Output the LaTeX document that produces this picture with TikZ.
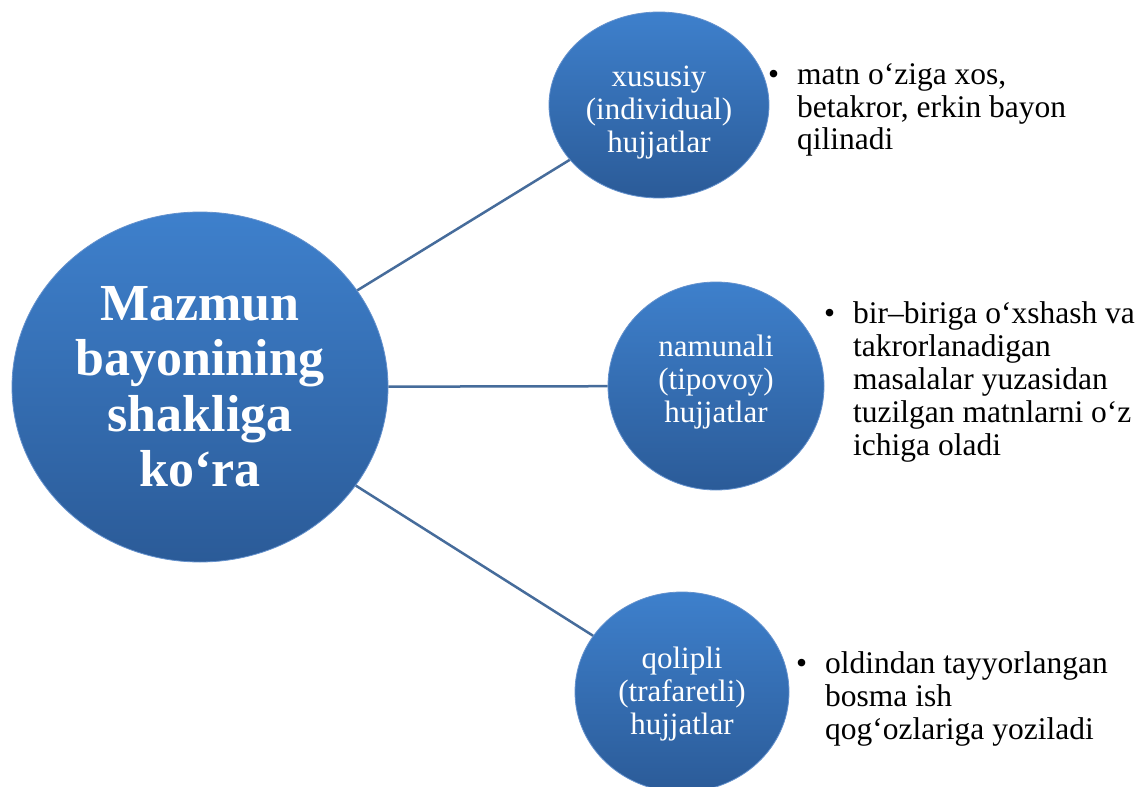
\documentclass[tikz,border=0pt]{standalone}
\usepackage{fontspec}
\setmainfont{Liberation Serif}
\usetikzlibrary{shapes.geometric}
\definecolor{ctop}{RGB}{62,128,204}
\definecolor{cbot}{RGB}{43,91,152}
\definecolor{linec}{RGB}{70,108,155}
\definecolor{rimc}{RGB}{100,145,205}
\newcommand\cblock[2]{\vtop{\baselineskip=#1\lineskiplimit=-100pt\halign{\hfil##\hfil\cr#2\crcr}}}
\newcommand\lblock[2]{\vtop{\baselineskip=#1\lineskiplimit=-100pt\halign{##\hfil\cr#2\crcr}}}
\newcommand\bul{\llap{•\hskip 18pt}}
\begin{document}
\begin{tikzpicture}[x=1pt,y=-1pt,
  bubble/.style={ellipse, inner sep=0pt, top color=ctop, bottom color=cbot, draw=rimc, line width=0.8pt},
  conn/.style={draw=linec, line width=2.5pt},
  intext/.style={text=white, anchor=base, inner sep=0pt, font=\fontsize{31}{33}\selectfont},
  maintext/.style={text=white, anchor=base, inner sep=0pt, font=\fontsize{52}{55}\selectfont\bfseries},
  note/.style={text=black, anchor=base west, inner sep=0pt, font=\fontsize{31.5}{33}\selectfont}]
\fill[white] (0,0) rectangle (1144,787);
\useasboundingbox (0,0) rectangle (1144,787);
\node[bubble, minimum width=376pt, minimum height=350pt] (main) at (200,387) {};
\node[bubble, minimum width=220pt, minimum height=186pt] (c1) at (659,105) {};
\node[bubble, minimum width=216pt, minimum height=208pt] (c2) at (716,386) {};
\node[bubble, minimum width=214pt, minimum height=200pt] (c3) at (682,692) {};
\draw[conn] (main) -- (c1);
\draw[conn] (main) -- (c2);
\draw[conn] (main) -- (c3);
\node[maintext] (mt) at (200,320) {\cblock{55.5pt}{Mazmun\cr bayonining\cr shakliga\cr ko‘ra}};
\node[intext] (t1) at (659,86) {\cblock{33pt}{xususiy\cr (individual)\cr hujjatlar}};
\node[intext] (t2) at (716,356) {\cblock{33pt}{namunali\cr (tipovoy)\cr hujjatlar}};
\node[intext] (t3) at (682,668) {\cblock{33pt}{qolipli\cr (trafaretli)\cr hujjatlar}};
\node[note] (n1) at (797,84) {\lblock{33pt}{\bul matn o‘ziga xos,\cr betakror, erkin bayon\cr qilinadi}};
\node[note] (n2) at (853,323) {\lblock{33pt}{\bul bir–biriga o‘xshash va\cr takrorlanadigan\cr masalalar yuzasidan\cr tuzilgan matnlarni o‘z\cr ichiga oladi}};
\node[note] (n3) at (825,673) {\lblock{33pt}{\bul oldindan tayyorlangan\cr bosma ish\cr qog‘ozlariga yoziladi}};
\end{tikzpicture}
\end{document}
